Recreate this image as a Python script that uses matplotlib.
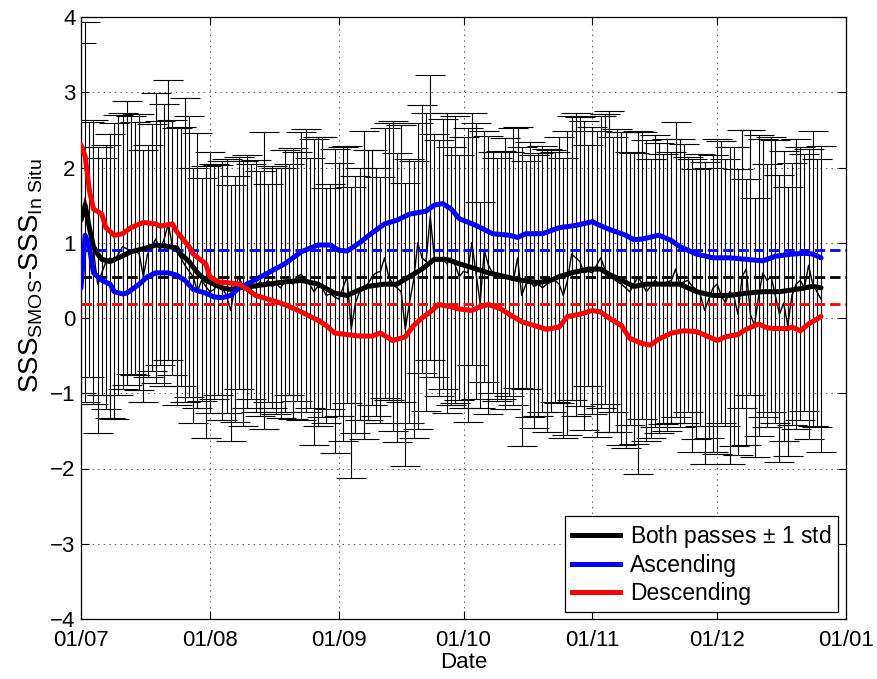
import numpy as np
import matplotlib
matplotlib.use('Agg')
import matplotlib.pyplot as plt
import matplotlib.dates as mdates
from matplotlib.lines import Line2D

plt.rcParams['font.family'] = ['Liberation Sans', 'DejaVu Sans']
plt.rcParams['mathtext.fontset'] = 'custom'
plt.rcParams['mathtext.rm'] = 'Liberation Sans'
plt.rcParams['mathtext.it'] = 'Liberation Sans:italic'
plt.rcParams['lines.scale_dashes'] = False

start = np.datetime64('2010-07-01')

# daily mean of both passes (thin black line), day 0 = 1 July
daily_mean = [1.30, 1.60, 1.20, 0.90, 0.45, 0.60, 0.75, 0.80, 0.75, 0.85,
              0.95, 0.92, 0.88, 0.90, 0.85, 0.55, 0.85, 0.95, 1.05, 0.90,
              1.05, 1.25, 0.95, 0.88, 0.80, 0.70, 0.62, 0.55, 0.35, 0.50,
              0.42, 0.35, 0.38, 0.45, 0.40, 0.30, 0.10, 0.40, 0.55, 0.40,
              0.42, 0.45, 0.40, 0.48, 0.45, 0.50, 0.42, 0.45, 0.40, 0.48,
              0.50, 0.45, 0.55, 0.58, 0.50, 0.45, 0.35, 0.42, 0.40, 0.30,
              0.32, 0.28, 0.25, 0.40, 0.55, -0.15, 0.20, 0.35, 0.40, 0.45,
              0.55, 0.60, 0.62, 0.80, 0.55, 0.45, 0.40, 0.35, -0.15, 0.20,
              0.50, 1.00, 0.80, 0.75, 1.35, 0.80, 0.75, 0.78, 0.72, 0.80,
              0.70, 0.55, 0.62, 0.60, 1.00, 0.60, 0.20, 0.90, 0.70, 0.60,
              0.55, 0.58, 0.55, 0.52, 0.50, 0.80, 0.30, 0.45, 0.48, 0.42,
              0.45, 0.40, 0.45, 0.48, 0.50, 0.45, 0.30, 0.50, 0.85, 0.80,
              0.75, 0.60, 0.62, 0.60, 0.70, 0.80, 0.65, 0.55, 0.52, 0.48,
              0.45, 0.40, 0.35, 0.45, 0.55, 0.45, 0.35, 0.42, 0.50, 0.45,
              0.45, 0.48, 0.50, 0.65, 0.45, 0.48, 0.50, 0.42, 0.38, 0.30,
              0.10, 0.25, 0.40, 0.45, 0.30, 0.20, 0.35, 0.30, 0.05, 0.55,
              0.65, 0.05, -0.10, 0.30, 0.60, 0.50, 0.55, 0.30, 0.05, 0.20,
              -0.10, 0.30, 0.45, 0.50, 0.40, 0.70, 0.45, 0.35, 0.25]

# top of the daily error bar (mean + 1 std)
daily_upper = [3.65, 3.94, 2.60, 2.63, 2.27, 2.12, 2.30, 2.44, 2.59, 2.70,
               2.73, 2.89, 2.69, 2.60, 2.71, 2.23, 2.30, 2.58, 2.99, 2.62,
               2.85, 3.16, 2.63, 2.52, 2.54, 2.93, 2.68, 2.00, 2.46, 1.86,
               2.02, 2.21, 2.05, 2.03, 2.09, 2.11, 1.77, 1.89, 2.14, 2.08,
               2.17, 2.04, 2.10, 1.96, 2.47, 1.78, 2.02, 1.99, 2.00, 2.23,
               2.04, 2.26, 2.20, 2.47, 2.51, 2.12, 2.38, 2.40, 2.40, 1.73,
               1.78, 2.24, 2.06, 2.27, 2.28, 1.74, 1.89, 2.00, 2.49, 2.23,
               2.23, 2.00, 1.87, 2.52, 2.59, 2.62, 2.19, 2.57, 1.79, 2.11,
               2.08, 2.59, 2.83, 2.72, 3.23, 2.45, 2.37, 2.64, 2.72, 2.27,
               2.69, 2.17, 2.41, 2.52, 2.73, 2.59, 1.54, 2.49, 2.42, 2.20,
               2.12, 2.22, 2.39, 2.21, 2.53, 2.54, 2.27, 2.08, 2.34, 2.17,
               2.19, 2.28, 2.24, 2.23, 2.20, 2.41, 2.12, 2.49, 2.68, 2.72,
               2.67, 2.62, 2.30, 2.54, 2.48, 2.68, 2.71, 2.75, 2.40, 2.51,
               2.47, 2.47, 2.21, 2.19, 2.48, 2.47, 2.37, 2.11, 2.43, 2.32,
               2.18, 2.38, 2.21, 2.60, 2.38, 2.31, 2.14, 2.11, 1.98, 2.18,
               2.07, 2.00, 2.17, 2.38, 2.35, 2.11, 2.27, 2.27, 1.98, 2.50,
               1.85, 2.50, 1.60, 2.43, 2.38, 2.04, 2.40, 2.37, 1.90, 2.22,
               1.74, 2.06, 2.38, 2.27, 2.18, 2.24, 2.48, 2.11, 2.28]

# bottom of the daily error bar (mean - 1 std)
daily_lower = [-1.00, -1.11, -0.78, -1.14, -1.53, -1.02, -1.21, -1.33, -1.34, -1.02,
               -0.95, -0.89, -0.75, -0.76, -0.96, -1.12, -0.79, -0.70, -0.86, -0.62,
               -0.91, -0.56, -0.76, -1.15, -0.91, -1.11, -1.05, -1.40, -1.19, -1.10,
               -1.60, -1.26, -1.08, -1.02, -1.35, -1.26, -1.63, -1.38, -0.95, -1.44,
               -1.20, -1.07, -1.25, -1.30, -1.47, -1.12, -1.20, -1.28, -1.33, -1.25,
               -1.02, -1.34, -1.10, -1.35, -1.25, -1.19, -1.69, -1.43, -1.32, -1.40,
               -1.21, -1.80, -1.30, -1.63, -1.13, -2.12, -1.53, -1.36, -1.61, -1.35,
               -1.16, -1.30, -1.39, -1.06, -1.09, -1.50, -1.65, -1.12, -1.97, -1.39,
               -1.59, -1.48, -0.73, -1.24, -0.56, -0.78, -1.04, -0.95, -1.26, -1.15,
               -1.13, -1.09, -1.19, -1.38, -0.62, -1.07, -1.20, -0.85, -1.27, -1.00,
               -1.10, -1.08, -1.21, -1.04, -1.16, -0.93, -1.70, -0.95, -1.31, -1.46,
               -1.30, -1.25, -1.52, -1.25, -1.11, -1.13, -1.59, -1.55, -1.09, -1.30,
               -1.17, -1.49, -0.90, -1.27, -1.58, -1.19, -1.14, -1.52, -1.25, -1.51,
               -1.69, -1.73, -1.42, -1.67, -2.07, -1.34, -1.63, -1.60, -1.45, -1.53,
               -1.41, -1.50, -1.40, -1.31, -1.45, -1.39, -1.25, -1.78, -1.61, -1.44,
               -1.94, -1.59, -1.78, -1.81, -1.39, -1.43, -1.94, -1.70, -1.82, -1.19,
               -1.69, -1.02, -1.85, -1.57, -1.32, -1.45, -1.25, -1.39, -1.92, -1.64,
               -1.83, -1.42, -1.48, -1.35, -1.24, -1.61, -1.43, -1.45, -1.78]

# smoothed curves (day offset, value)
both_days = [0, 1, 2, 3, 4, 5, 7, 9, 12, 15, 18, 21, 23, 24, 26, 28, 30, 32, 34, 36,
             38, 41, 45, 49, 53, 57, 61, 64, 66, 69, 73, 76, 79, 82, 85, 88, 91, 94,
             98, 102, 106, 110, 113, 115, 118, 122, 125, 127, 130, 133, 136, 140,
             144, 148, 152, 156, 160, 164, 168, 172, 176, 178]
both_vals = [1.30, 1.50, 1.20, 0.95, 0.85, 0.78, 0.75, 0.80, 0.88, 0.92, 0.97, 0.95,
             0.93, 0.85, 0.75, 0.60, 0.50, 0.45, 0.40, 0.38, 0.40, 0.42, 0.45, 0.48,
             0.50, 0.45, 0.33, 0.30, 0.35, 0.42, 0.45, 0.45, 0.55, 0.65, 0.78, 0.78,
             0.72, 0.67, 0.60, 0.55, 0.50, 0.47, 0.50, 0.55, 0.60, 0.65, 0.65, 0.58,
             0.50, 0.42, 0.45, 0.45, 0.45, 0.35, 0.30, 0.30, 0.33, 0.35, 0.35, 0.38,
             0.42, 0.40]

asc_days = [0, 1, 2, 3, 5, 7, 8, 10, 11, 14, 16, 18, 21, 23, 25, 27, 30, 32, 34, 36,
            38, 41, 45, 49, 53, 57, 60, 62, 64, 67, 70, 73, 76, 79, 83, 85, 87, 89,
            91, 95, 99, 103, 105, 107, 111, 115, 119, 123, 124, 127, 131, 133, 135,
            139, 142, 144, 148, 152, 156, 160, 164, 167, 171, 174, 176, 178]
asc_vals = [0.40, 1.10, 0.95, 0.60, 0.50, 0.45, 0.35, 0.32, 0.33, 0.45, 0.55, 0.60,
            0.60, 0.57, 0.50, 0.38, 0.33, 0.28, 0.27, 0.30, 0.40, 0.48, 0.60, 0.72,
            0.88, 0.97, 0.97, 0.90, 0.89, 1.00, 1.13, 1.25, 1.30, 1.38, 1.42, 1.50,
            1.52, 1.45, 1.32, 1.23, 1.12, 1.10, 1.07, 1.12, 1.12, 1.20, 1.23, 1.28,
            1.25, 1.18, 1.10, 1.04, 1.05, 1.10, 1.03, 0.95, 0.85, 0.80, 0.80, 0.78,
            0.76, 0.82, 0.85, 0.86, 0.85, 0.80]

desc_days = [0, 1, 2, 3, 5, 6, 8, 10, 12, 15, 18, 19, 22, 23, 26, 27, 30, 31, 33, 35,
             38, 40, 42, 45, 49, 53, 57, 59, 61, 64, 67, 70, 72, 75, 78, 80, 82, 84,
             86, 89, 91, 94, 96, 98, 101, 103, 106, 109, 112, 115, 117, 120, 123, 125,
             127, 130, 132, 135, 137, 139, 142, 145, 148, 151, 153, 155, 158, 160,
             163, 165, 167, 170, 171, 173, 175, 178]
desc_vals = [2.30, 2.15, 1.70, 1.45, 1.38, 1.20, 1.10, 1.12, 1.20, 1.27, 1.25, 1.22,
             1.25, 1.15, 0.95, 0.85, 0.72, 0.55, 0.48, 0.47, 0.45, 0.38, 0.30, 0.25,
             0.18, 0.08, -0.03, -0.10, -0.20, -0.22, -0.24, -0.24, -0.20, -0.30,
             -0.25, -0.10, 0.00, 0.08, 0.18, 0.15, 0.12, 0.10, 0.15, 0.18, 0.12, 0.05,
             -0.05, -0.10, -0.15, -0.12, 0.02, 0.05, 0.10, 0.08, 0.00, -0.10, -0.27,
             -0.34, -0.36, -0.28, -0.20, -0.17, -0.18, -0.25, -0.30, -0.25, -0.22,
             -0.15, -0.08, -0.13, -0.14, -0.14, -0.12, -0.17, -0.08, 0.02]

mean_both = 0.55
mean_asc = 0.90
mean_desc = 0.18

x_ticks = ['2010-07-01', '2010-08-01', '2010-09-01', '2010-10-01',
           '2010-11-01', '2010-12-01', '2011-01-01']
legend_labels = [r'Both passes $\pm$ 1 std', 'Ascending', 'Descending']


def to_dates(days):
    return start + np.array(days).astype('timedelta64[D]')


m = np.array(daily_mean)
up = np.array(daily_upper)
lo = np.array(daily_lower)
dd = to_dates(np.arange(len(m)))

fig = plt.figure(figsize=(8.77, 6.79), dpi=100)
ax = fig.add_axes([81 / 877, 1 - 619 / 679, 765 / 877, 602 / 679])

ax.errorbar(dd, m, yerr=[m - lo, up - m], fmt='none', ecolor='black',
            elinewidth=0.8, capsize=10.5, capthick=0.8, zorder=2)
ax.plot(dd, m, color='black', lw=1.0, zorder=3)

xl = (np.datetime64(x_ticks[0]), np.datetime64(x_ticks[-1]))
dash = dict(linestyle=(0, (7.5, 3.5)), lw=2.0, zorder=4)
ax.plot(xl, [mean_both] * 2, color='black', **dash)
ax.plot(xl, [mean_asc] * 2, color='blue', **dash)
ax.plot(xl, [mean_desc] * 2, color='red', **dash)

for days, vals, col in [(both_days, both_vals, 'black'),
                        (asc_days, asc_vals, 'blue'),
                        (desc_days, desc_vals, 'red')]:
    ax.plot(to_dates(days), vals, color=col, lw=3.6, zorder=5,
            solid_joinstyle='round', solid_capstyle='round')

ax.set_xlim(xl)
ax.set_ylim(-4, 4)
ax.set_yticks(np.arange(-4, 5, 1))
ax.set_xticks([np.datetime64(t) for t in x_ticks])
ax.xaxis.set_major_formatter(mdates.DateFormatter('%d/%m'))
ax.grid(True, linestyle=(0, (1, 3)), color='0.35', lw=0.7)
ax.tick_params(direction='in', top=True, right=True, length=6, width=0.8,
               labelsize=16)
ax.tick_params(axis='x', pad=8)
ax.tick_params(axis='y', pad=4)
for s in ax.spines.values():
    s.set_linewidth(0.9)

ax.set_xlabel('Date', fontsize=16, labelpad=1)
ax.set_ylabel(r'SSS$_{\mathrm{SMOS}}$-SSS$_{\mathrm{In\ Situ}}$', fontsize=20)
ax.yaxis.set_label_coords(-0.047, 0.57)

handles = [Line2D([], [], color='black', lw=3.6),
           Line2D([], [], color='blue', lw=3.6),
           Line2D([], [], color='red', lw=3.6)]
leg = ax.legend(handles, legend_labels,
                loc='lower right', bbox_to_anchor=(0.99, 0.012), borderaxespad=0,
                fontsize=16.5, handlelength=2.1, fancybox=False, framealpha=1,
                edgecolor='black', labelspacing=0.2, borderpad=0.3,
                handletextpad=0.45)
leg.get_frame().set_linewidth(0.9)
leg.set_zorder(10)

fig.savefig('out.png', dpi=100)
